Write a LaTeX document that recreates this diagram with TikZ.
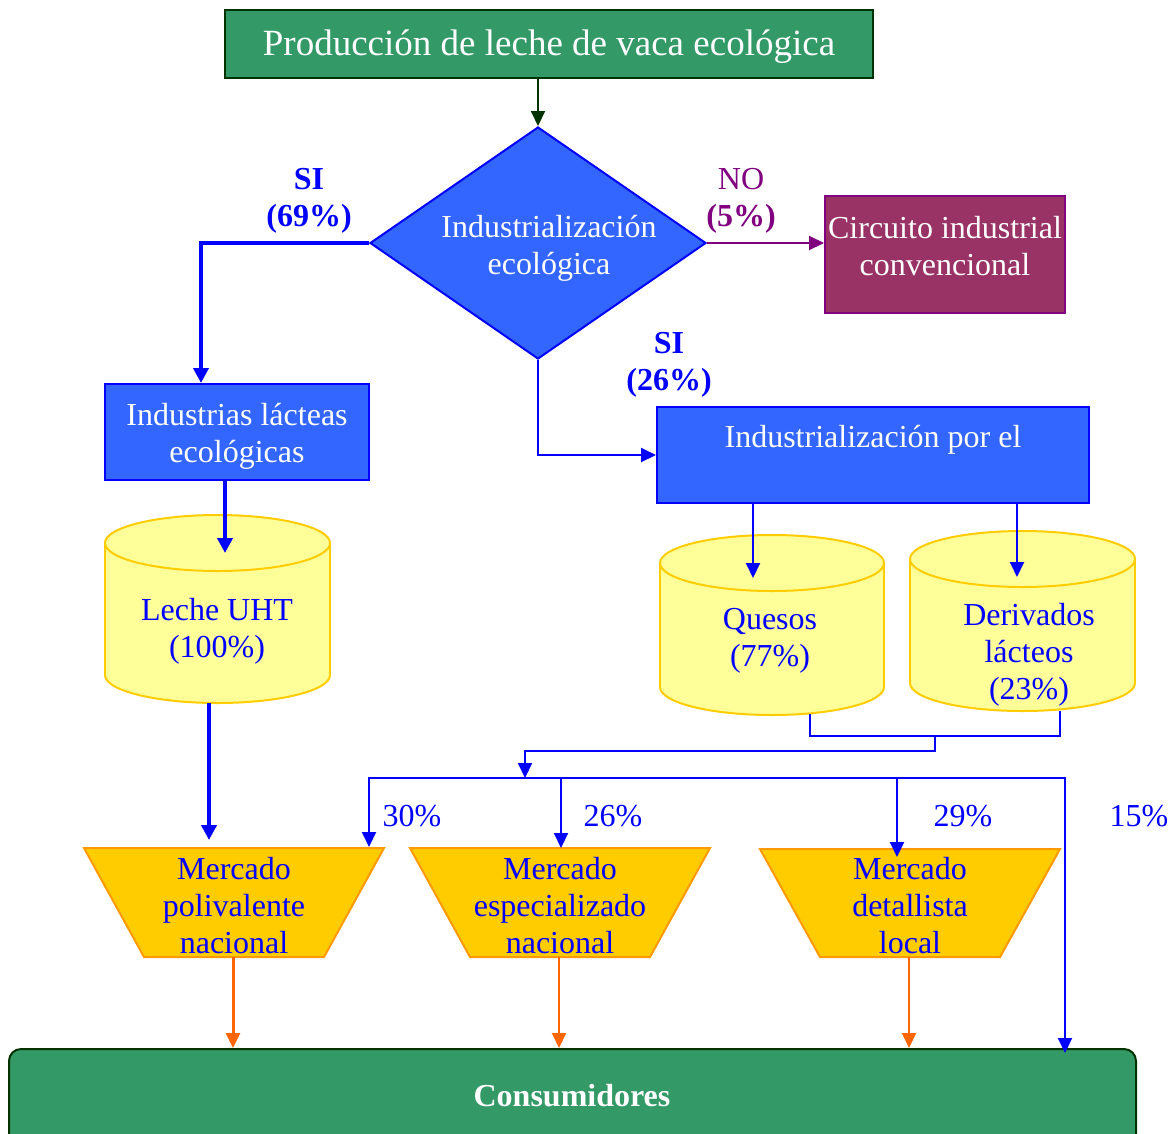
\documentclass[tikz,border=0pt]{standalone}
\usepackage{fontspec}
\setmainfont{Liberation Serif}
\usetikzlibrary{arrows.meta,shapes.geometric}
\definecolor{grF}{HTML}{339966}
\definecolor{grD}{HTML}{003300}
\definecolor{blF}{HTML}{3366FF}
\definecolor{blD}{HTML}{0000FF}
\definecolor{puF}{HTML}{993366}
\definecolor{puD}{HTML}{800080}
\definecolor{cyF}{HTML}{FFFF99}
\definecolor{cyD}{HTML}{FFCC00}
\definecolor{trF}{HTML}{FFCC00}
\definecolor{trD}{HTML}{FF9900}
\definecolor{orA}{HTML}{FF6600}
\begin{document}
\begin{tikzpicture}[x=1pt,y=-1pt,
  txt/.style={font=\fontsize{32}{37}\selectfont, align=center, inner sep=0pt},
  wtxt/.style={txt, text=white},
  btxt/.style={txt, text=blD},
  bluebox/.style={draw=blD, fill=blF, line width=2pt, inner sep=0pt},
  tip/.style={-{Triangle[length=15pt,width=14pt]}},
  bigtip/.style={-{Triangle[length=15pt,width=15pt]}},
  thinblue/.style={tip, draw=blD, line width=2pt},
  thickblue/.style={bigtip, draw=blD, line width=4pt},
  orarrow/.style={tip, draw=orA, line width=2pt},
  cylfill/.style={fill=cyF, draw=cyD, line width=2pt},
  trap/.style={fill=trF, draw=trD, line width=2pt, line join=miter}
]
\useasboundingbox (0,0) rectangle (1174,1133);

% ---- top: production box and decision ----
\node[draw=grD, fill=grF, line width=2pt, minimum width=648pt, minimum height=68pt,
      inner sep=0pt] (prod) at (549,44) {};
\node[font=\fontsize{37}{42}\selectfont, text=white, inner sep=0pt] (prodtxt) at (549,47)
      {Producción de leche de vaca ecológica};

\node[diamond, draw=blD, fill=blF, line width=2pt, minimum width=336pt,
      minimum height=232pt, inner sep=0pt] (dec) at (538,243) {};
\node[wtxt] (dectxt) at (549,248) {Industrialización\\ecológica};

\draw[tip, draw=grD, line width=2pt] (prod.south -| dec.north) -- (dec.north);

% ---- conventional circuit ----
\node[draw=puD, fill=puF, line width=2pt, minimum width=240pt, minimum height=117pt] (circ) at (945,254.5) {};
\node[wtxt] (circtxt) at (945,246) {Circuito industrial\\convencional};
\draw[tip, draw=puD, line width=2pt] (dec.east) -- (dec.east -| circ.west);
\node[txt, text=puD] (nolab) at (741,201) {NO\\\textbf{(5\%)}};

% ---- ecological dairy industries ----
\node[bluebox, minimum width=264pt, minimum height=96pt] (indl) at (237,432) {};
\node[wtxt] (indltxt) at (237,436) {Industrias lácteas\\ecológicas};
\draw[thickblue] (dec.west) -| ([xshift=-36pt]indl.north);
\node[txt, text=blD, font=\fontsize{32}{37}\selectfont\bfseries] (si69) at (309,201) {SI\\(69\%)};

% ---- industrialisation by others ----
\node[bluebox, minimum width=432pt, minimum height=96pt] (indp) at (873,455) {};
\node[wtxt] (indptxt) at (873,440) {Industrialización por el};
\draw[thinblue] (dec.south) |- (indp.west);
\node[txt, text=blD, font=\fontsize{32}{37}\selectfont\bfseries] (si26) at (669,365) {SI\\(26\%)};

% ---- product cylinders ----
% UHT milk
\draw[cylfill] (217.5,675) ellipse [x radius=112.5, y radius=28];
\fill[cyF] (105,543) rectangle (330,675);
\draw[cyD, line width=2pt] (105,543) -- (105,675) (330,543) -- (330,675);
\draw[cylfill] (217.5,543) ellipse [x radius=112.5, y radius=28];
\node[btxt] (leche) at (217,631) {Leche UHT\\(100\%)};
\coordinate (lecheIn) at (225,553);
\coordinate (lecheOut) at (209,703);

% cheeses
\draw[cylfill] (772,687) ellipse [x radius=112, y radius=28];
\fill[cyF] (660,563) rectangle (884,687);
\draw[cyD, line width=2pt] (660,563) -- (660,687) (884,563) -- (884,687);
\draw[cylfill] (772,563) ellipse [x radius=112, y radius=28];
\node[btxt] (quesos) at (770,641) {Quesos\\(77\%)};
\coordinate (quesosIn) at (753,578);
\coordinate (quesosOut) at (810,714);

% dairy derivatives
\draw[cylfill] (1022.5,683) ellipse [x radius=112.5, y radius=28];
\fill[cyF] (910,559) rectangle (1135,683);
\draw[cyD, line width=2pt] (910,559) -- (910,683) (1135,559) -- (1135,683);
\draw[cylfill] (1022.5,559) ellipse [x radius=112.5, y radius=28];
\node[btxt] (deriv) at (1029,655) {Derivados\\lácteos\\(23\%)};
\coordinate (derivIn) at (1017,577);
\coordinate (derivOut) at (1060,711);

\draw[thickblue] ([xshift=-12pt]indl.south) -- (lecheIn);
\draw[thinblue] (indp.south -| quesosIn) -- (quesosIn);
\draw[thinblue] (indp.south -| derivIn) -- (derivIn);

% ---- merge of cheese and derivatives ----
\coordinate (merge) at (935,736);
\coordinate (hub) at (525,778);
\draw[draw=blD, line width=2pt] (quesosOut) |- (merge) -| (derivOut);
\draw[thinblue] (merge) -- (935,751) -| (hub);

% ---- market trapezia ----
\draw[trap] (84,848) -- (384,848) -- (324,957) -- (144,957) -- cycle;
\node[btxt] (mpol) at (234,906) {Mercado\\polivalente\\nacional};
\draw[trap] (410,848) -- (710,848) -- (650,957) -- (470,957) -- cycle;
\node[btxt] (mesp) at (560,906) {Mercado\\especializado\\nacional};
\draw[trap] (760,849) -- (1060,849) -- (1000,957) -- (820,957) -- cycle;
\node[btxt] (mdet) at (910,906) {Mercado\\detallista\\local};

\coordinate (mpolIn) at (369,847);
\coordinate (mespIn) at (561,848);
\coordinate (mdetIn) at (897,857);
\coordinate (mpolLeche) at (209,840);
\coordinate (mpolOut) at (233,957);
\coordinate (mespOut) at (559,957);
\coordinate (mdetOut) at (909,957);

\draw[thickblue] (lecheOut) -- (mpolLeche);
\draw[thinblue] (hub) -| (mpolIn);
\draw[thinblue] (hub -| mespIn) -- (mespIn);
\draw[thinblue] (hub -| mdetIn) -- (mdetIn);

\node[btxt] (p30) at (412,816) {30\%};
\node[btxt] (p26) at (613,816) {26\%};
\node[btxt] (p29) at (963,816) {29\%};
\node[btxt] (p15) at (1139,816) {15\%};

% ---- consumers ----
\draw[fill=grF, draw=grD, line width=2pt, rounded corners=12pt] (9,1049) rectangle (1136,1170);
\node[wtxt, font=\fontsize{32}{37}\selectfont\bfseries] (cons) at (572,1096) {Consumidores};
\coordinate (consIn1) at (233,1048);
\coordinate (consIn2) at (559,1048);
\coordinate (consIn3) at (909,1048);
\coordinate (consIn4) at (1065,1053);

\draw[orarrow, line width=3pt] (mpolOut) -- (consIn1);
\draw[orarrow] (mespOut) -- (consIn2);
\draw[orarrow] (mdetOut) -- (consIn3);
\draw[thinblue] (hub) -| (consIn4);
\end{tikzpicture}
\end{document}
